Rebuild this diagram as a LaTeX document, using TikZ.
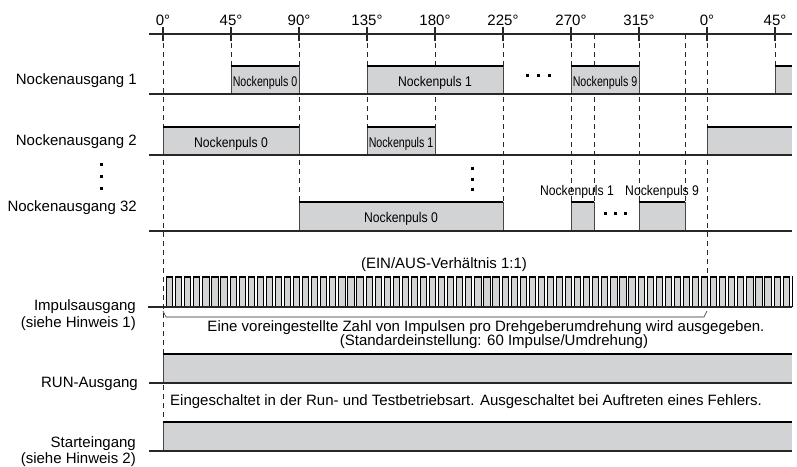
\documentclass[tikz,border=0pt]{standalone}
\usepackage{fontspec}
\usepackage{graphicx}
\setmainfont{Liberation Sans}
\definecolor{pulseC}{RGB}{210,211,213}
\definecolor{lineC}{RGB}{40,38,38}
\definecolor{edgeC}{RGB}{70,70,70}
\newcommand\cpulse[4]{%
  \fill[pulseC] (#1,#3) rectangle (#2,#4);
  \draw[edgeln] (#1,#4) -- (#1,#3) (#2,#3) -- (#2,#4);
  \draw[hiln] (#1,#3) -- (#2,#3);}
\newcommand\cpulseopen[4]{%
  \fill[pulseC] (#1,#3) rectangle (#2,#4);
  \draw[edgeln] (#1,#4) -- (#1,#3);
  \draw[hiln] (#1,#3) -- (#2,#3);}
\begin{document}
\begin{tikzpicture}[x=1pt,y=-1pt,
  baseln/.style={line width=1.3pt, draw=lineC},
  hiln/.style={line width=2.8pt, draw=black},
  edgeln/.style={line width=0.8pt, draw=edgeC},
  guide/.style={line width=0.8pt, draw=lineC, dash pattern=on 5pt off 4pt},
  tickln/.style={line width=1.8pt, draw=lineC},
  lbl/.style={font=\fontsize{15}{17}\selectfont, inner sep=0pt},
  plbl/.style={font=\fontsize{14}{16}\selectfont, inner sep=0pt},
  dotsq/.style={fill=black, minimum size=3pt, inner sep=0pt, rectangle}
]
\useasboundingbox (0,0) rectangle (797,466);

% guide lines
\foreach \gx/\gy in {163/422,231/66,299/202,367/127,435/127,503/202,571/202,594/202,639/202,685/202,707/276,775/66}
  \draw[guide] (\gx,34) -- (\gx,\gy);

% axis
\draw[baseln] (149,34) -- (792,34);
\foreach \ang/\tx in {0/163,45/231,90/299,135/367,180/435,225/503,270/571,315/639,0/707,45/775} {
  \draw[tickln] (\tx,27) -- (\tx,41);
  \node[lbl, anchor=base] (t\tx) at (\tx,25) {\ang°};
}

% Row 1
\cpulse{231}{299}{66}{94}
\cpulse{367}{503}{66}{94}
\cpulse{571}{639}{66}{94}
\cpulseopen{775}{792}{66}{94}
\draw[baseln] (149,94) -- (792,94);
\node[lbl, anchor=base east] (r1) at (137,84) {Nockenausgang 1};
\node[plbl, anchor=base] (r1p0) at (265,86) {\scalebox{0.76}[1]{Nockenpuls 0}};
\node[plbl, anchor=base] (r1p1) at (435,86) {\scalebox{0.87}[1]{Nockenpuls 1}};
\node[plbl, anchor=base] (r1p9) at (605,86) {\scalebox{0.76}[1]{Nockenpuls 9}};
\node[dotsq] (d1a) at (527,75) {};
\node[dotsq] (d1b) at (538,75) {};
\node[dotsq] (d1c) at (549,75) {};

% Row 2
\cpulse{163}{299}{127}{155}
\cpulse{367}{435}{127}{155}
\cpulseopen{707}{792}{127}{155}
\draw[baseln] (149,155) -- (792,155);
\node[lbl, anchor=base east] (r2) at (137,145) {Nockenausgang 2};
\node[plbl, anchor=base] (r2p0) at (231,147) {\scalebox{0.87}[1]{Nockenpuls 0}};
\node[plbl, anchor=base] (r2p1) at (401,147) {\scalebox{0.76}[1]{Nockenpuls 1}};

% vertical dots
\node[dotsq] (v1a) at (101,164) {};
\node[dotsq] (v1b) at (101,176) {};
\node[dotsq] (v1c) at (101,188) {};
\node[dotsq] (v2a) at (472,168) {};
\node[dotsq] (v2b) at (472,179) {};
\node[dotsq] (v2c) at (472,189) {};

% Row 32
\cpulse{299}{503}{202}{231}
\cpulse{571}{594}{202}{231}
\cpulse{639}{685}{202}{231}
\draw[baseln] (149,231) -- (792,231);
\node[lbl, anchor=base east] (r32) at (137,211) {Nockenausgang 32};
\node[plbl, anchor=base] (r32p0) at (401,222) {\scalebox{0.87}[1]{Nockenpuls 0}};
\node[plbl, anchor=base east] (r32p1) at (614,195) {\scalebox{0.87}[1]{Nockenpuls 1}};
\node[plbl, anchor=base west] (r32p9) at (625,195) {\scalebox{0.87}[1]{Nockenpuls 9}};
\node[dotsq] (d3a) at (605,213) {};
\node[dotsq] (d3b) at (615,213) {};
\node[dotsq] (d3c) at (625,213) {};

% Impulse train
\foreach \k in {0,...,69} {
  \pgfmathsetmacro\xa{166.5+\k*9.06667}
  \pgfmathsetmacro\xb{min(\xa+6.2,792)}
  \fill[pulseC] (\xa,276) rectangle (\xb,307);
  \draw[line width=0.9pt, draw=black] (\xa,307) -- (\xa,276) -- (\xb,276) -- (\xb,307);
  \draw[line width=2pt, draw=black] (\xa,277) -- (\xb,277);
}
\draw[baseln] (148,307) -- (792,307);
\coordinate (bl) at (163,311);
\coordinate (br) at (707,311);
\draw[line width=0.6pt, draw=lineC] (bl) -- ++(3,6) -- (704,317) -- (br);
\node[lbl, anchor=base] (ein) at (444,268) {(EIN/AUS-Verhältnis 1:1)};
\node[lbl, anchor=base] (note1) at (486,331) {Eine voreingestellte Zahl von Impulsen pro Drehgeberumdrehung wird ausgegeben.};
\node[lbl, anchor=base] (note2) at (494,345) {(Standardeinstellung: 60 Impulse/Umdrehung)};
\node[lbl, anchor=base east] (imp1) at (136,310) {Impulsausgang};
\node[lbl, anchor=base east] (imp2) at (136,327) {(siehe Hinweis 1)};

% RUN
\cpulseopen{163}{792}{354}{383}
\draw[baseln] (149,383) -- (792,383);
\node[lbl, anchor=base east] (run) at (138,387) {RUN-Ausgang};
\node[lbl, anchor=base west] (runnote) at (170,405) {Eingeschaltet in der Run- und Testbetriebsart. Ausgeschaltet bei Auftreten eines Fehlers.};

% Start
\cpulseopen{163}{792}{422}{451}
\draw[baseln] (149,451) -- (792,451);
\node[lbl, anchor=base east] (st1) at (136,447) {Starteingang};
\node[lbl, anchor=base east] (st2) at (136,463) {(siehe Hinweis 2)};
\end{tikzpicture}
\end{document}
